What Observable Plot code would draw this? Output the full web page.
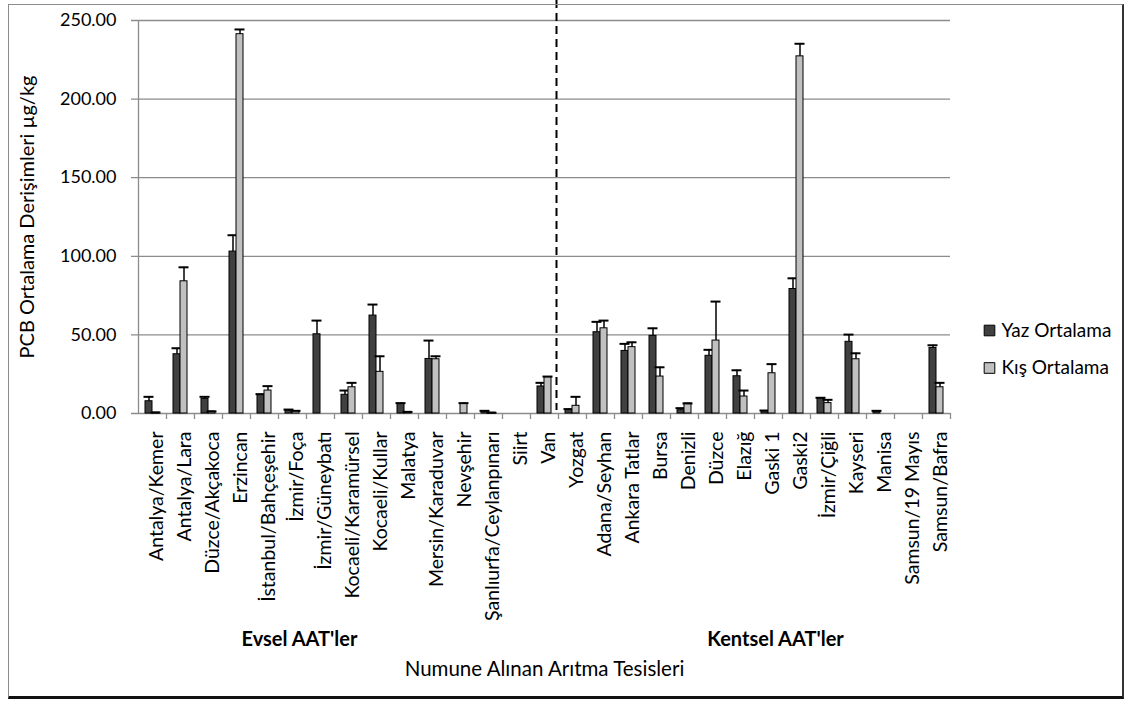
<!DOCTYPE html>
<html>
<head>
<meta charset="utf-8">
<script src="https://cdn.jsdelivr.net/npm/d3@7"></script>
<script src="https://cdn.jsdelivr.net/npm/@observablehq/plot@0.6"></script>
<style>
  html, body { margin: 0; padding: 0; background: #fff; }
  #chart { position: relative; width: 1129px; height: 702px; overflow: hidden; }
  #chart svg { position: absolute; left: 0; top: 0; }
  #border {
    position: absolute; left: 8px; top: 4px; width: 1113px; height: 691px;
    border-top: 1px solid #8c8c8c; border-left: 1px solid #8c8c8c;
    border-right: 2px solid #333; border-bottom: 3px solid #111;
    pointer-events: none;
  }
</style>
</head>
<body>
<div id="chart"><div id="border"></div></div>
<script>
// Treatment plants (domestic plants first, then urban plants from Yozgat on)
const sites = [
  "Antalya/Kemer", "Antalya/Lara", "Düzce/Akçakoca", "Erzincan", "İstanbul/Bahçeşehir",
  "İzmir/Foça", "İzmir/Güneybatı", "Kocaeli/Karamürsel", "Kocaeli/Kullar", "Malatya",
  "Mersin/Karaduvar", "Nevşehir", "Şanlıurfa/Ceylanpınarı", "Siirt", "Van",
  "Yozgat", "Adana/Seyhan", "Ankara Tatlar", "Bursa", "Denizli",
  "Düzce", "Elazığ", "Gaski 1", "Gaski2", "İzmir/Çiğli",
  "Kayseri", "Manisa", "Samsun/19 Mayıs", "Samsun/Bafra"
];

// Summer means and their standard deviations (µg/kg)
const yazMean = [7.8, 37.7, 9.3, 103.0, 11.9, 1.9, 50.4, 11.9, 62.3, 6.1,
                 34.7, 0, 1.2, 0, 17.2, 2.3, 51.7, 39.8, 49.4, 2.1,
                 36.7, 23.7, 1.5, 79.2, 9.7, 45.6, 1.3, 0, 41.7];
const yazSd   = [2.8, 3.8, 1.3, 10.4, 0.4, 0.6, 8.7, 2.7, 7.0, 0.5,
                 11.7, 0, 0.5, 0, 2.3, 0.5, 6.6, 4.5, 4.8, 1.3,
                 3.8, 3.8, 0.4, 6.8, 0.3, 4.6, 0.4, 0, 1.7];

// Winter means and their standard deviations (µg/kg)
const kisMean = [0.6, 84.1, 1.3, 241.3, 14.6, 1.5, 0, 16.7, 26.5, 1.0,
                 34.5, 6.1, 0.5, 0, 23.1, 4.9, 54.2, 42.2, 23.5, 6.4,
                 46.4, 10.8, 25.6, 227.2, 6.6, 34.5, 0, 0, 16.7];
const kisSd   = [0, 8.9, 0, 3.0, 2.8, 0.2, 0, 2.8, 9.9, 0,
                 1.9, 0.5, 0, 0, 0.4, 5.7, 4.9, 3.1, 5.9, 0,
                 24.8, 3.8, 5.8, 8.0, 2.1, 3.8, 0, 0, 2.8];

const seasons = ["Yaz Ortalama", "Kış Ortalama"];
const yTicks = [0, 50, 100, 150, 200, 250];
const groupLabels = [
  {site: "İzmir/Foça", label: "Evsel AAT'ler"},
  {site: "Gaski 1", label: "Kentsel AAT'ler"}
];
const xTitle = "Numune Alınan Arıtma Tesisleri";
const yTitle = "PCB Ortalama Derişimleri µg/kg";

const yaz = sites.map((site, i) => ({site, value: yazMean[i], sd: yazSd[i]}));
const kis = sites.map((site, i) => ({site, value: kisMean[i], sd: kisSd[i]}));

// Layout
const W = 1129, H = 702;
const mL = 138, mR = 179, mT = 20, mB = 289;
const step = (W - mL - mR) / sites.length;  // width of one category
const barW = 7, capW = 10;
const darkFill = "#404040", lightFill = "#c0c0c0";
const gridColor = "#8c8c8c";
const font = "Lato, sans-serif";

const half = step / 2;
// bar and error-bar geometry inside each category band (dark left, light right)
const dark = {insetLeft: half - barW, insetRight: half};
const light = {insetLeft: half, insetRight: half - barW};
const darkCap = {insetLeft: half - barW / 2 - capW / 2, insetRight: half + barW / 2 - capW / 2};
const lightCap = {insetLeft: half + barW / 2 - capW / 2, insetRight: half - barW / 2 - capW / 2};

function seriesMarks(data, fill, barInsets, capInsets, shift) {
  const shown = data.filter(d => d.value > 0);
  return [
    Plot.barY(shown, {x: "site", y: "value", fill, stroke: "#000", strokeWidth: 1, ...barInsets}),
    Plot.ruleX(shown.filter(d => d.sd > 0), {x: "site", y1: "value", y2: d => d.value + d.sd,
      dx: shift, stroke: "#000", strokeWidth: 1.5}),
    Plot.tickY(shown, {x: "site", y: d => d.value + d.sd, stroke: "#000", strokeWidth: 2, ...capInsets})
  ];
}

const hasAxisMarks = typeof Plot.axisX === "function";
const xAxisOpts = {tickSize: 0, tickPadding: 18, tickRotate: -90, label: null};

const chart = Plot.plot({
  width: W,
  height: H,
  marginLeft: mL,
  marginRight: mR,
  marginTop: mT,
  marginBottom: mB,
  style: {fontFamily: font, fontSize: "18px", color: "#000", background: "transparent", overflow: "visible"},
  x: {domain: sites, padding: 0, ...(hasAxisMarks ? {axis: null} : xAxisOpts), label: null},
  y: {domain: [0, 250], ticks: yTicks, tickFormat: d3.format(".2f"), tickSize: 0, tickPadding: 22, label: null},
  marks: [
    // category names under the axis
    ...(hasAxisMarks ? [Plot.axisX({...xAxisOpts, dx: 4, fontSize: 19.5})] : []),
    // horizontal gridlines with their small left tick
    Plot.ruleY(yTicks, {stroke: gridColor, strokeWidth: 1.3, insetLeft: -7}),
    // vertical axis line
    Plot.ruleX([sites[0]], {dx: -half, stroke: gridColor, strokeWidth: 1.3}),
    // category boundary ticks below the axis
    Plot.ruleX(sites, {dx: half, y1: 0, y2: 0, insetBottom: -6, stroke: gridColor, strokeWidth: 1.3}),
    ...seriesMarks(yaz, darkFill, dark, darkCap, -barW / 2),
    ...seriesMarks(kis, lightFill, light, lightCap, barW / 2),
    // dashed separator between domestic and urban plants
    Plot.ruleX(["Yozgat"], {dx: -half - 2, insetTop: -mT, insetBottom: 3, stroke: "#000",
      strokeWidth: 2, strokeDasharray: "8,5"}),
    // group labels
    Plot.text(groupLabels, {x: "site", text: "label", frameAnchor: "bottom", dx: 7, dy: 232,
      fontWeight: "bold", fontSize: 20}),
    // axis titles
    Plot.text([xTitle], {frameAnchor: "bottom", dy: 262, fontSize: 20.5}),
    Plot.text([yTitle], {frameAnchor: "left", textAnchor: "middle", rotate: -90, dx: -111, fontSize: 20}),
    // legend
    Plot.dot([seasons[0]], {frameAnchor: "right", dx: 39, dy: 113.5, symbol: "square", r: 6,
      fill: darkFill, stroke: "#000", strokeWidth: 1}),
    Plot.dot([seasons[1]], {frameAnchor: "right", dx: 39, dy: 151, symbol: "square", r: 6,
      fill: lightFill, stroke: "#000", strokeWidth: 1}),
    Plot.text([seasons[0]], {frameAnchor: "right", dx: 51, dy: 113.5, textAnchor: "start", fontSize: 19}),
    Plot.text([seasons[1]], {frameAnchor: "right", dx: 51, dy: 151, textAnchor: "start", fontSize: 19})
  ]
});

document.getElementById("chart").prepend(chart);
</script>
</body>
</html>
